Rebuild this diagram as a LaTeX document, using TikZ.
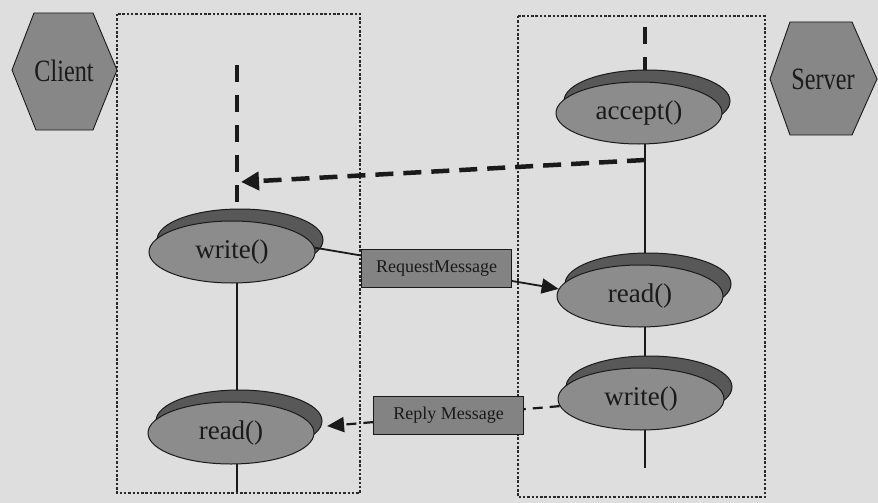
\documentclass[tikz,border=0pt]{standalone}
\usepackage{fontspec}
\setmainfont{Liberation Serif}
\newfontfamily\narrowserif[FakeStretch=0.78]{Liberation Serif}
\usetikzlibrary{shapes.geometric,shadows,arrows.meta}
\pgfdeclarelayer{paper}
\pgfdeclarelayer{background}
\pgfsetlayers{paper,background,main}
\definecolor{paper}{HTML}{DEDEDE}
\definecolor{diskfront}{HTML}{8C8C8C}
\definecolor{diskback}{HTML}{585858}
\definecolor{hexfill}{HTML}{878787}
\definecolor{msgfill}{HTML}{838383}
\definecolor{ink}{HTML}{1A1A1A}
\definecolor{framecol}{HTML}{2A2A2A}

\begin{document}
\begin{tikzpicture}[x=1pt,y=-1pt,
  disk/.style={ellipse, draw=ink, line width=1pt, fill=diskfront,
    minimum width=166pt, minimum height=62pt, inner sep=0pt, text=ink,
    font=\fontsize{27}{27}\selectfont,
    copy shadow={shadow xshift=8pt, shadow yshift=12pt, fill=diskback, draw=ink}},
  msgbox/.style={rectangle, solid, draw=ink, line width=1pt, fill=msgfill,
    minimum width=150pt, minimum height=38pt, inner sep=0pt, text=ink,
    font=\fontsize{18}{18}\selectfont},
  hexagon/.style={fill=hexfill, draw=ink, line width=0.9pt},
  hexlabel/.style={inner sep=0pt, text=ink, font=\narrowserif\fontsize{31}{31}\selectfont},
  frame/.style={draw=framecol, line width=1.6pt, dash pattern=on 2.5pt off 1.8pt},
  lifeline/.style={draw=ink, line width=2pt},
  lifedash/.style={draw=ink, line width=3.2pt, dash pattern=on 17pt off 13pt},
  callarrow/.style={draw=ink, line width=4.5pt, dash pattern=on 18pt off 10pt,
    -{Triangle[length=18pt,width=18pt]}},
  reqarrow/.style={draw=ink, line width=1.8pt, -{Triangle[length=17pt,width=15pt]}},
  reparrow/.style={draw=ink, line width=2.2pt, dash pattern=on 10pt off 7pt,
    -{Triangle[length=17pt,width=15pt]}},
]
\useasboundingbox (0,0) rectangle (878,503);
\begin{pgfonlayer}{paper}
  \fill[paper] (0,0) rectangle (878,503);
\end{pgfonlayer}

% process frames
\draw[frame] (117,14) rectangle (360,493);
\draw[frame] (518,16) rectangle (765,497);

% actors
\draw[hexagon] (34,13) -- (93,13) -- (117,70) -- (93,130) -- (36,130) -- (12,70) -- cycle;
\node[hexlabel] (client) at (64,71) {Client};
\draw[hexagon] (790,22) -- (852,22) -- (877,79) -- (852,135) -- (790,135) -- (770,79) -- cycle;
\node[hexlabel] (server) at (823,79) {Server};

% socket calls
\node[disk] (acc) at (639,113) {accept()};
\node[disk] (cw)  at (232,252) {write()};
\node[disk] (sr)  at (640,296) {read()};
\node[disk] (sw)  at (641,399) {write()};
\node[disk] (cr)  at (231,433) {read()};

% lifelines
\coordinate (ctop) at (237,65);
\coordinate (cbot) at (237,492);
\coordinate (stop) at (645,27);
\coordinate (sbot) at (645,468);
\begin{pgfonlayer}{background}
  \draw[lifedash] (ctop) -- (ctop |- cw.north);
  \draw[lifeline] (ctop |- cw.center) -- (cbot);
  \draw[lifedash] (stop) -- (stop |- acc.north);
  \draw[lifeline] (stop |- acc.center) -- (sbot);
\end{pgfonlayer}

% connection request
\coordinate (callsrc) at (645,160);
\coordinate (calldst) at (241,182);
\draw[callarrow] (callsrc) -- (calldst);

% messages
\draw[reqarrow] (cw.3) -- node[msgbox] {RequestMessage} (sr.175);
\draw[reparrow, shorten >=14pt] (sw.185) -- node[msgbox, pos=0.45] {Reply Message} (cr.4);
\end{tikzpicture}
\end{document}
